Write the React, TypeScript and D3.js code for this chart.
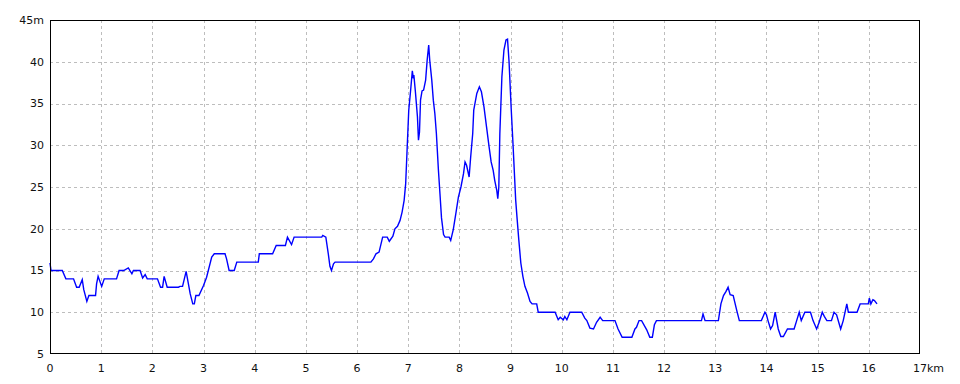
import React from "react";
import * as d3 from "d3";

const distKm = [
  0.00, 0.02, 0.24, 0.31, 0.46, 0.52, 0.57, 0.63, 0.66, 0.72, 0.76, 0.89, 0.91, 0.94, 1.01, 1.06,
  1.30, 1.35, 1.44, 1.53, 1.60, 1.63, 1.76, 1.81, 1.86, 1.90, 2.10, 2.16, 2.20, 2.23, 2.29, 2.51,
  2.54, 2.59, 2.66, 2.74, 2.79, 2.82, 2.85, 2.91, 3.00, 3.06, 3.16, 3.21, 3.42, 3.45, 3.50, 3.60,
  3.65, 4.07, 4.09, 4.35, 4.42, 4.60, 4.64, 4.72, 4.77, 5.31, 5.33, 5.39, 5.44, 5.47, 5.50, 5.54,
  5.57, 6.27, 6.32, 6.37, 6.43, 6.50, 6.59, 6.63, 6.70, 6.74, 6.79, 6.84, 6.88, 6.92, 6.95, 6.98,
  7.01, 7.05, 7.08, 7.10, 7.11, 7.14, 7.18, 7.20, 7.22, 7.24, 7.27, 7.30, 7.34, 7.37, 7.40, 7.42,
  7.46, 7.49, 7.52, 7.55, 7.59, 7.62, 7.65, 7.69, 7.72, 7.80, 7.83, 7.88, 7.93, 7.98, 8.03, 8.08,
  8.11, 8.14, 8.19, 8.22, 8.26, 8.28, 8.34, 8.39, 8.43, 8.48, 8.53, 8.58, 8.62, 8.66, 8.69, 8.73,
  8.75, 8.77, 8.79, 8.83, 8.87, 8.91, 8.94, 8.97, 9.01, 9.05, 9.10, 9.13, 9.16, 9.20, 9.24, 9.28,
  9.33, 9.38, 9.42, 9.51, 9.54, 9.87, 9.93, 9.97, 10.03, 10.06, 10.10, 10.16, 10.39, 10.45, 10.49, 10.55,
  10.62, 10.68, 10.75, 10.80, 11.04, 11.10, 11.18, 11.37, 11.43, 11.46, 11.51, 11.56, 11.66, 11.72, 11.77, 11.81,
  11.85, 12.73, 12.76, 12.80, 13.06, 13.11, 13.16, 13.21, 13.25, 13.29, 13.35, 13.42, 13.47, 13.90, 13.97, 14.00,
  14.03, 14.08, 14.12, 14.17, 14.23, 14.28, 14.33, 14.41, 14.54, 14.59, 14.64, 14.68, 14.75, 14.86, 14.91, 14.98,
  15.03, 15.09, 15.13, 15.18, 15.27, 15.32, 15.37, 15.45, 15.50, 15.57, 15.60, 15.77, 15.83, 15.99, 16.01, 16.04,
  16.08, 16.11, 16.16,
];

const elevM = [
  15.9, 15.0, 15.0, 14.0, 14.0, 13.0, 13.0, 13.9, 12.7, 11.3, 12.0, 12.0, 13.4, 14.3, 13.1, 14.0,
  14.0, 15.0, 15.0, 15.3, 14.6, 15.0, 15.0, 14.1, 14.5, 14.0, 14.0, 13.0, 13.0, 14.3, 13.0, 13.0,
  13.1, 13.1, 14.9, 12.2, 11.0, 11.0, 12.0, 12.0, 13.2, 14.2, 16.6, 17.0, 17.0, 16.4, 15.0, 15.0,
  16.0, 16.0, 17.0, 17.0, 18.0, 18.0, 19.0, 18.1, 19.0, 19.0, 19.2, 19.0, 16.9, 15.5, 15.0, 15.8,
  16.0, 16.0, 16.4, 17.0, 17.2, 19.0, 19.0, 18.5, 19.1, 20.0, 20.3, 21.0, 22.0, 23.4, 25.4, 29.8,
  34.2, 36.8, 38.9, 38.0, 38.4, 36.4, 33.4, 30.6, 31.6, 35.4, 36.5, 36.6, 37.8, 40.2, 42.0, 40.2,
  37.8, 35.4, 33.8, 31.4, 27.0, 24.2, 21.3, 19.3, 19.0, 19.0, 18.6, 19.9, 21.8, 23.8, 25.0, 26.6,
  28.0, 27.6, 26.2, 28.6, 31.4, 34.2, 36.2, 37.0, 36.4, 34.6, 32.2, 29.8, 28.0, 27.0, 25.8, 24.6,
  23.6, 25.0, 31.4, 38.2, 41.4, 42.6, 42.7, 40.0, 34.6, 29.8, 23.4, 21.0, 18.7, 15.9, 14.3, 13.1,
  12.3, 11.3, 11.0, 11.0, 10.0, 10.0, 9.1, 9.4, 9.1, 9.5, 9.1, 10.0, 10.0, 9.3, 9.0, 8.1,
  8.0, 8.8, 9.4, 9.0, 9.0, 8.0, 7.0, 7.0, 8.0, 8.2, 9.0, 9.0, 7.9, 7.0, 7.0, 8.5,
  9.0, 9.0, 9.8, 9.0, 9.0, 11.0, 12.0, 12.5, 13.0, 12.1, 12.0, 10.2, 9.0, 9.0, 10.0, 9.7,
  9.0, 8.0, 8.4, 10.0, 8.0, 7.1, 7.1, 8.0, 8.0, 9.0, 10.0, 9.0, 10.0, 10.0, 9.0, 8.0,
  8.8, 10.0, 9.5, 9.0, 9.0, 10.0, 9.7, 8.0, 9.0, 11.0, 10.0, 10.0, 11.0, 11.0, 11.7, 11.0,
  11.5, 11.4, 11.0,
];

const xTicks = [0, 1, 2, 3, 4, 5, 6, 7, 8, 9, 10, 11, 12, 13, 14, 15, 16, 17];
const yTicks = [5, 10, 15, 20, 25, 30, 35, 40, 45];
const xUnit = "km";
const yUnit = "m";

const W = 960;
const H = 384;
const L = 50, R = 920, T = 20, B = 354;

export default function App() {
  const x = d3.scaleLinear().domain([0, 17]).range([L, R]);
  const y = d3.scaleLinear().domain([5, 45]).range([B, T]);
  const pts: [number, number][] = distKm.map((d, i) => [d, elevM[i]]);
  const line = d3
    .line<[number, number]>()
    .x((d) => x(d[0]))
    .y((d) => y(d[1]));
  const font = "DejaVu Sans, Verdana, sans-serif";
  const lastTick = xTicks[xTicks.length - 1];
  return (
    <svg
      width={W}
      height={H}
      style={{ position: "absolute", left: 0, top: 0, background: "#fff" }}
    >
      <rect x={0} y={0} width={W} height={H} fill="#fff" />
      {xTicks.slice(1, -1).map((t) => (
        <line
          key={"gx" + t}
          x1={Math.round(x(t)) + 0.5}
          x2={Math.round(x(t)) + 0.5}
          y1={T}
          y2={B}
          stroke="#bdbdbd"
          strokeDasharray="3,3"
        />
      ))}
      {yTicks.slice(1, -1).map((t) => (
        <line
          key={"gy" + t}
          x1={L}
          x2={R}
          y1={Math.round(y(t)) + 0.5}
          y2={Math.round(y(t)) + 0.5}
          stroke="#bdbdbd"
          strokeDasharray="3,3"
        />
      ))}
      <path d={line(pts) || ""} fill="none" stroke="#0000ff" strokeWidth={1.4} />
      <rect
        x={L + 0.5}
        y={T + 0.5}
        width={R - L - 1}
        height={B - T - 1}
        fill="none"
        stroke="#000"
        strokeWidth={1}
      />
      {yTicks.map((t) => (
        <text
          key={"ly" + t}
          x={44}
          y={y(t)}
          dy="0.35em"
          textAnchor="end"
          fontFamily={font}
          fontSize={11}
          fill="#111"
        >
          {t === 45 ? `${t}${yUnit}` : t}
        </text>
      ))}
      {xTicks.map((t) =>
        t === lastTick ? (
          <text
            key={"lx" + t}
            x={x(t) - 7}
            y={372}
            textAnchor="start"
            fontFamily={font}
            fontSize={11}
            fill="#111"
          >
            {`${t}${xUnit}`}
          </text>
        ) : (
          <text
            key={"lx" + t}
            x={x(t)}
            y={372}
            textAnchor="middle"
            fontFamily={font}
            fontSize={11}
            fill="#111"
          >
            {t}
          </text>
        )
      )}
    </svg>
  );
}
